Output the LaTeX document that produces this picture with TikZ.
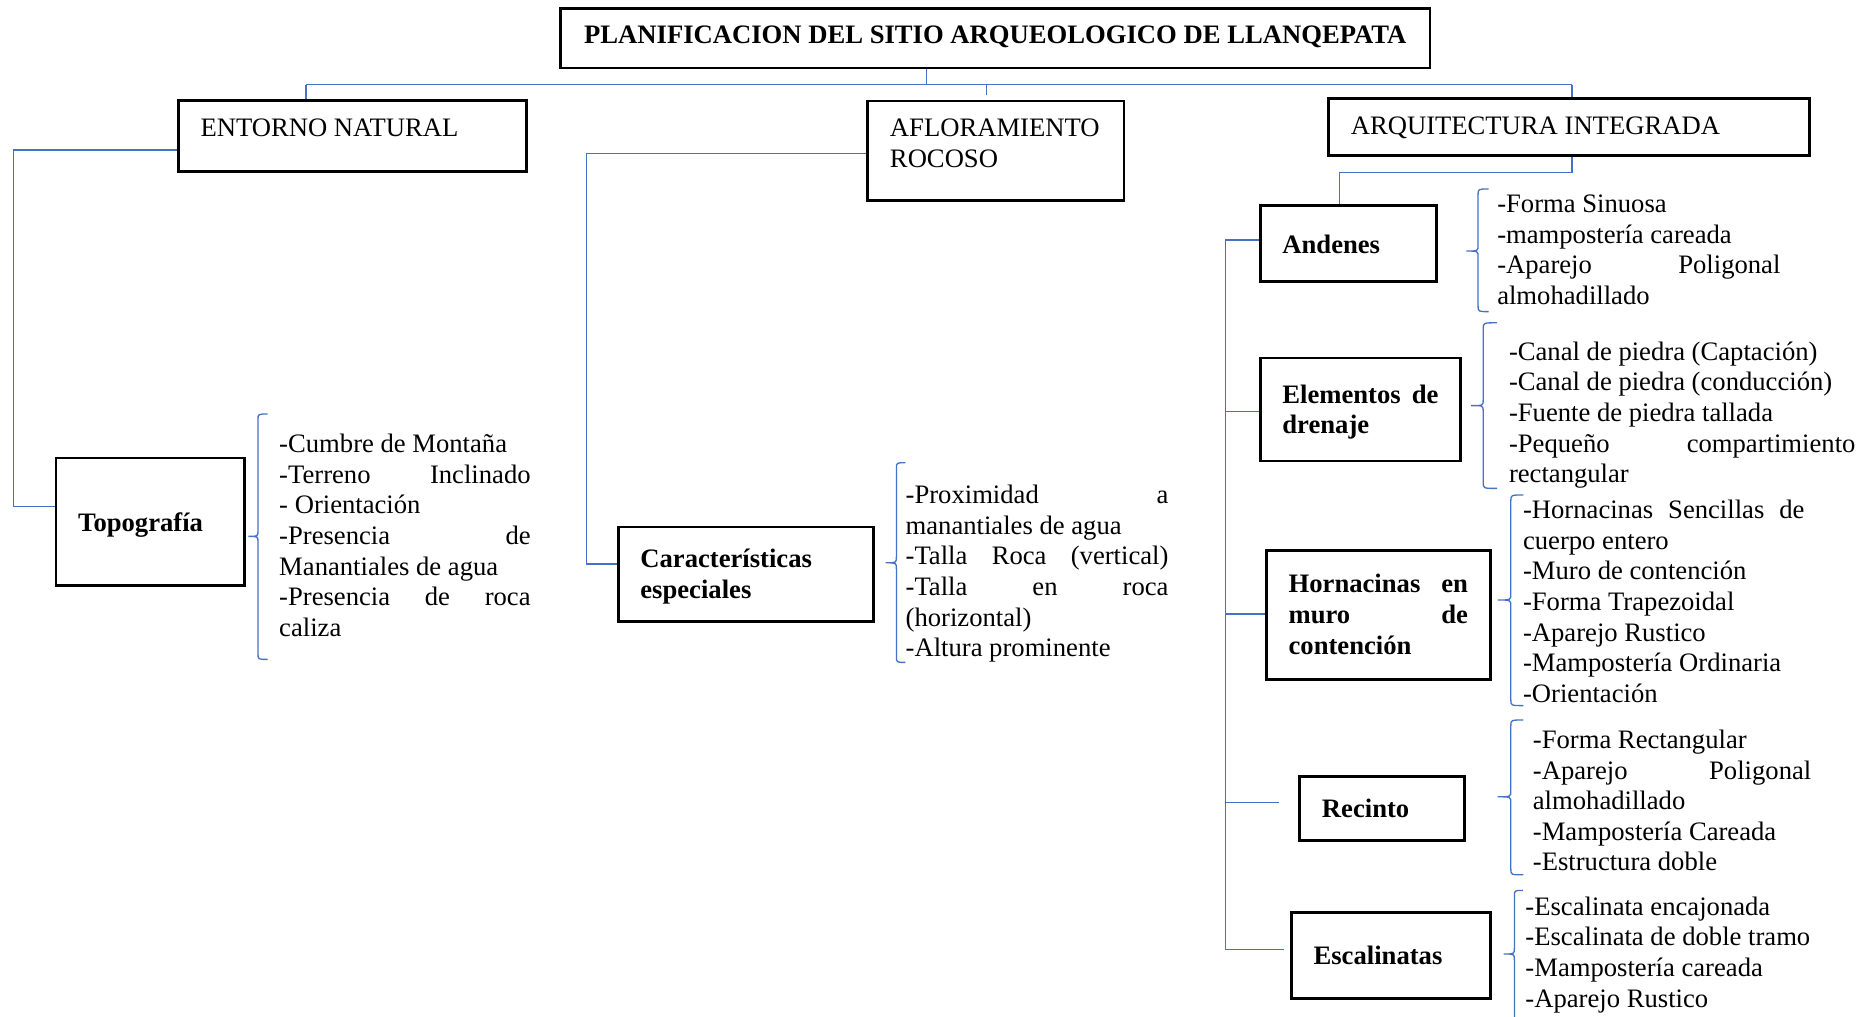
\documentclass[tikz,border=0pt]{standalone}
\usepackage{tikz}
\usepackage{fontspec}
\setmainfont{Liberation Serif}
\definecolor{lineblue}{RGB}{68,114,196}
\newcommand\fs{\fontsize{22.2pt}{25.5pt}\selectfont}
\newcommand\Sh[1]{\rule{0pt}{#1pt}}
\newcommand\Sd[1]{\rule[-#1pt]{0pt}{#1pt}}
\newcommand\J[2]{\makebox[#1pt][s]{\spaceskip=0pt\xspaceskip=0pt #2}}
\newcommand\cbrace[6]{%
  \draw[conn] (#3,#4) .. controls (#2,#4) .. (#2,{#4+5}) -- (#2,{#5-5})
    .. controls (#2,#5) .. (#1,#5) .. controls (#2,#5) .. (#2,{#5+5})
    -- (#2,{#6-5}) .. controls (#2,#6) .. (#3,#6);}
\begin{document}
\begin{tikzpicture}[x=1pt,y=-1pt,font=\fs,
  execute at begin node={\spaceskip=0pt\xspaceskip=0pt},
  conn/.style={draw=lineblue,line width=1.1pt},
  box/.style={draw=black,line width=2.3pt,rectangle,inner ysep=0pt,inner xsep=18.5pt,anchor=north west,align=left},
  bbox/.style={box,font=\fs\bfseries},
  txt/.style={inner sep=0pt,anchor=north west,align=left}]
\useasboundingbox (0,0) rectangle (1560,847.5);

% ---------- boxes ----------
\node[box,font=\fs\bfseries,inner xsep=0pt,align=center,minimum width=724.5,minimum height=49.5] (title) at (466,6)
  {\Sh{17.25}PLANIFICACION DEL SITIO ARQUEOLOGICO DE LLANQEPATA\Sd{8.25}};
\node[box,minimum width=290,minimum height=59.5,text width=253] (entorno) at (147.5,82.5)
  {\Sh{16}ENTORNO NATURAL\Sd{15.5}};
\node[box,minimum width=213.5,minimum height=83,text width=176.5] (aflo) at (722,83)
  {\Sh{16}\mbox{AFLORAMIENTO}\\ROCOSO\Sd{13.5}};
\node[box,minimum width=400.5,minimum height=47.1,text width=363.5] (arq) at (1106,81.2)
  {\Sh{19}ARQUITECTURA INTEGRADA\Sd{6.5}};

\node[bbox,minimum width=157,minimum height=106.4,text width=120] (topo) at (45.5,380.6)
  {\Sh{22}Topografía\Sd{6.2}};
\node[bbox,minimum width=213,minimum height=79,text width=176] (carac) at (514,438)
  {\Sh{20}Características\\especiales\Sd{5.5}};
\node[bbox,minimum width=147,minimum height=63.3,text width=110] (andenes) at (1049,170)
  {\Sh{21}Andenes\Sd{4.9}};
\node[bbox,minimum width=167,minimum height=85.8,text width=130] (elem) at (1049,297.2)
  {\Sh{20}\J{130}{Elementos de}\\drenaje\Sd{5.3}};
\node[bbox,minimum width=186.4,minimum height=107.8,text width=149.4] (horn) at (1054.2,457.5)
  {\Sh{20}\J{149.4}{Hornacinas en}\\\J{149.4}{muro de}\\contención\Sd{5.8}};
\node[bbox,minimum width=137.5,minimum height=53.2,text width=100.5] (recinto) at (1082,645.8)
  {\Sh{20}Recinto\Sd{4.8}};
\node[bbox,minimum width=166,minimum height=72,text width=129] (escal) at (1075,759)
  {\Sh{20}Escalinatas\Sd{4.8}};

% ---------- lists ----------
\node[txt,text width=209.5] (tT) at (232.5,359)
  {\Sh{18}-Cumbre de Montaña\\\J{209.5}{-Terreno Inclinado}\\- Orientación\\\J{209.5}{-Presencia de}\\Manantiales de agua\\\J{209.5}{-Presencia de roca}\\caliza};
\node[txt,text width=219] (tC) at (754.5,401.5)
  {\Sh{18}\J{219}{-Proximidad a}\\manantiales de agua\\\J{219}{-Talla Roca (vertical)}\\\J{219}{-Talla en roca}\\(horizontal)\\-Altura prominente};
\node[txt,text width=236] (tA) at (1247.5,159)
  {\Sh{18}-Forma Sinuosa\\-mampostería careada\\\J{236}{-Aparejo Poligonal}\\almohadillado};
\node[txt,text width=288.7] (tE) at (1257.3,282)
  {\Sh{18}-Canal de piedra (Captación)\\-Canal de piedra (conducción)\\-Fuente de piedra tallada\\\J{288.7}{-Pequeño compartimiento}\\rectangular};
\node[txt,text width=234.5] (tH) at (1269,414)
  {\Sh{18}\J{234.5}{-Hornacinas Sencillas de}\\cuerpo entero\\-Muro de contención\\-Forma Trapezoidal\\-Aparejo Rustico\\-Mampostería Ordinaria\\-Orientación};
\node[txt,text width=232] (tR) at (1277.2,605.6)
  {\Sh{18}-Forma Rectangular\\\J{232}{-Aparejo Poligonal}\\almohadillado\\-Mampostería Careada\\-Estructura doble};
\node[txt,text width=260] (tS) at (1271,744.5)
  {\Sh{18}-Escalinata encajonada\\-Escalinata de doble tramo\\-Mampostería careada\\-Aparejo Rustico};

% ---------- junction coordinates ----------
\coordinate (j0) at (772,70.6);
\coordinate (hL) at (255,70.6);
\coordinate (hR) at (1310,70.6);
\coordinate (jA) at (822,70.6);
\coordinate (jAe) at (822,79);
\coordinate (e0) at (11,125);
\coordinate (e1) at (11,422);
\coordinate (a0) at (489,128);
\coordinate (a1) at (489,470);
\coordinate (r1) at (1310,143.5);
\coordinate (r2) at (1116,143.5);
\coordinate (t0) at (1021.5,200);
\coordinate (t1) at (1021.5,343);
\coordinate (t2) at (1021.5,511.7);
\coordinate (t3) at (1021.5,669);
\coordinate (t4) at (1021.5,791.5);
\coordinate (rEnd) at (1066,669);
\coordinate (sEnd) at (1070,791.5);

% ---------- connectors ----------
\draw[conn] (title.south -| j0) -- (j0);
\draw[conn] (hL) -- (hR);
\draw[conn] (hL) -- (hL |- entorno.north);
\draw[conn] (jA) -- (jAe);
\draw[conn] (hR) -- (hR |- arq.north);
\draw[conn] (entorno.west |- e0) -- (e0) -- (e1) -- (topo.west |- e1);
\draw[conn] (aflo.west |- a0) -- (a0) -- (a1) -- (carac.west |- a1);
\draw[conn] (arq.south -| r1) -- (r1) -- (r2) -- (r2 |- andenes.north);
\draw[conn] (andenes.west |- t0) -- (t0) -- (t4) -- (sEnd);
\draw[conn] (t1) -- (elem.west |- t1);
\draw[conn] (t2) -- (horn.west |- t2);
\draw[conn] (t3) -- (rEnd);

% ---------- braces ----------
\cbrace{207}{215}{223}{345}{447}{549.5}
\cbrace{738}{747}{754.5}{385.6}{469}{552}
\cbrace{1222}{1231.7}{1240.6}{157.5}{209.2}{259.7}
\cbrace{1226}{1236}{1247.5}{269}{338}{407}
\cbrace{1248}{1259}{1269.5}{412.5}{500}{588}
\cbrace{1248}{1259}{1269.5}{600}{664}{729}
\cbrace{1253}{1262}{1269}{742}{795}{855}
\end{tikzpicture}
\end{document}
